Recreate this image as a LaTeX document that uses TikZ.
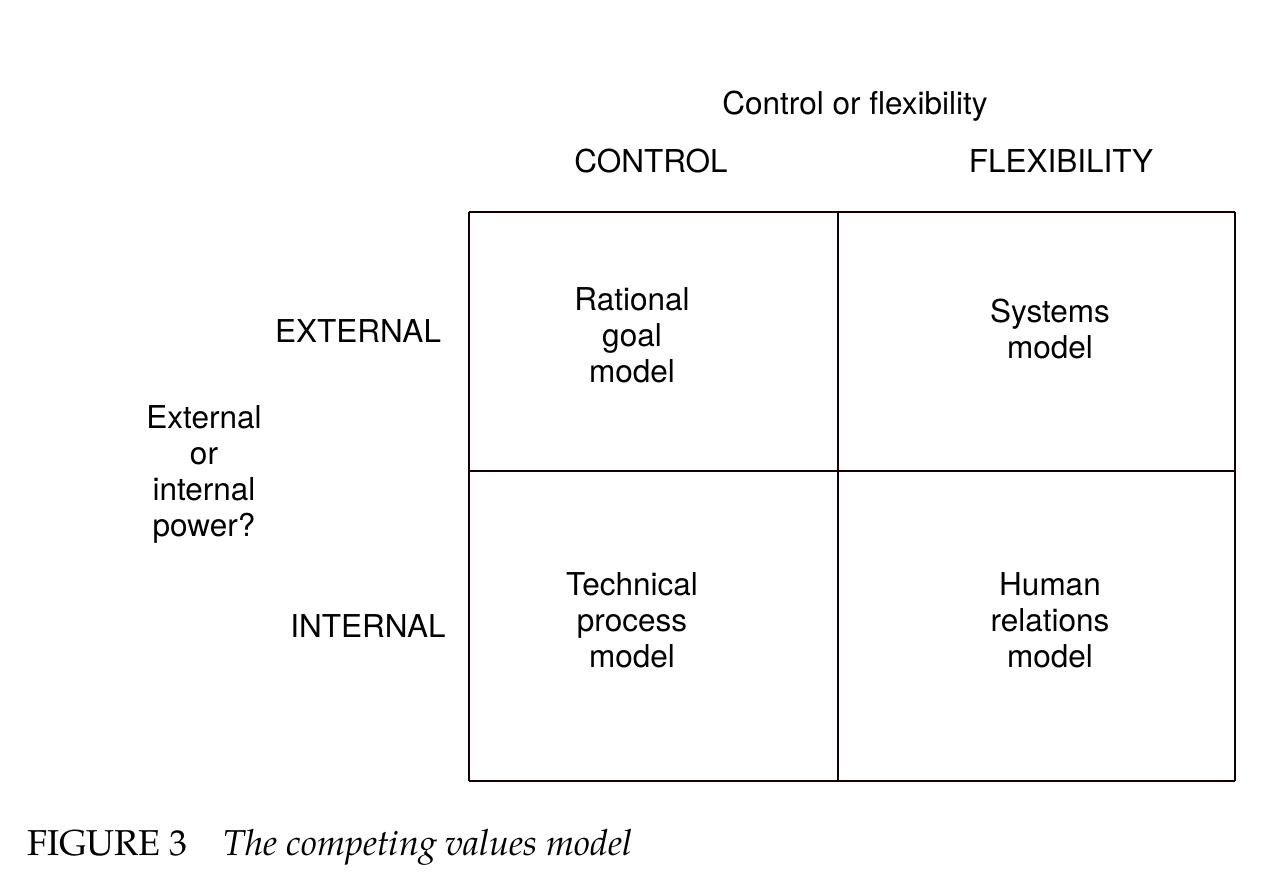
\documentclass[tikz,border=0pt]{standalone}
\usepackage{fontspec}
\setmainfont{TeX Gyre Heros}
\newfontfamily\capfont{TeX Gyre Pagella}
\begin{document}
\begin{tikzpicture}[x=1pt,y=-1pt,
  lbl/.style={inner sep=0pt,anchor=base,align=center,font=\fontsize{31.5}{36}\selectfont},
  hline/.style={line width=2.9pt,color=black!92!red},
  vline/.style={line width=2.2pt,color=black!92!red}]
\useasboundingbox (0,0) rectangle (1280,895);
% grid
\coordinate (tl) at (469,212);
\coordinate (tm) at (838,212);
\coordinate (tr) at (1235,212);
\coordinate (ml) at (469,471);
\coordinate (mr) at (1235,471);
\coordinate (bl) at (469,781);
\coordinate (bm) at (838,781);
\coordinate (br) at (1235,781);
\draw[hline] (tl) -- (tr);
\draw[hline] (ml) -- (mr);
\draw[hline] (bl) -- (br);
\draw[vline] (tl) -- (bl);
\draw[vline] (tm) -- (bm);
\draw[vline] (tr) -- (br);
% headings
\node[lbl] (cf) at (855,114) {Control or flexibility};
\node[lbl] (ctrl) at (651,172) {CONTROL};
\node[lbl] (flex) at (1061,172) {FLEXIBILITY};
\node[lbl] (ext) at (358,342) {EXTERNAL};
\node[lbl] (int) at (368,637) {INTERNAL};
\node[lbl] (eip) at (204,536) {External\\or\\internal\\power?};
% cells
\node[lbl] (rg) at (632,382) {Rational\\goal\\model};
\node[lbl] (sy) at (1050,358) {Systems\\model};
\node[lbl] (tp) at (632,667) {Technical\\process\\model};
\node[lbl] (hr) at (1050,667) {Human\\relations\\model};
% caption
\node[inner sep=0pt,anchor=base west,font=\capfont\fontsize{36}{42}\selectfont] (cap) at (27,855) {FIGURE 3\hspace{1.0em}\itshape The competing values model};
\end{tikzpicture}
\end{document}
